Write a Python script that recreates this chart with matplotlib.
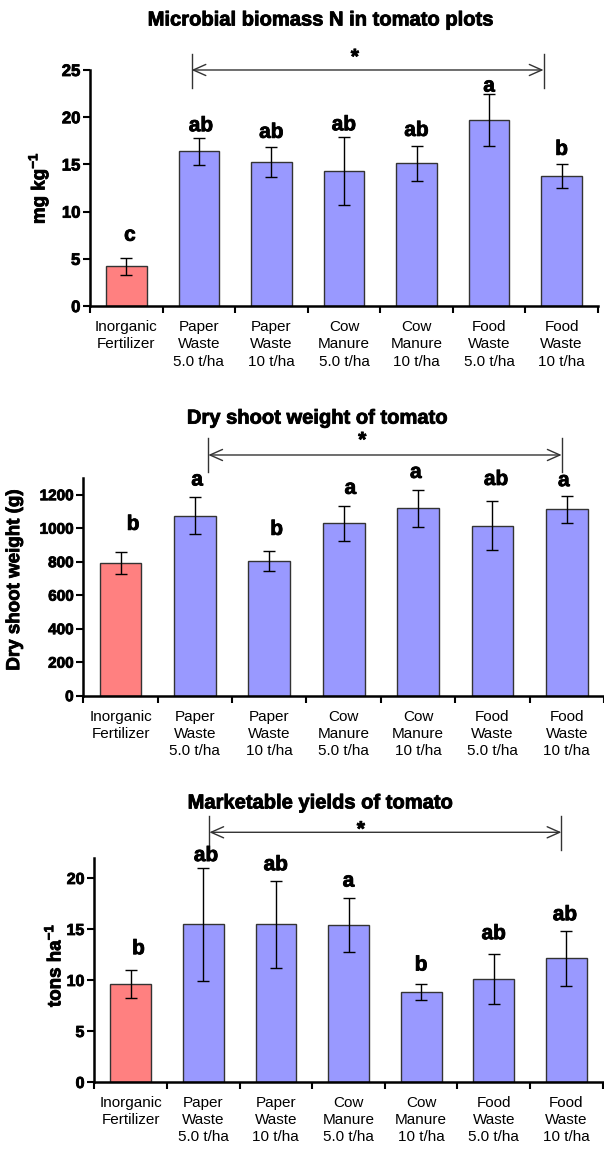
import numpy as np
import matplotlib
matplotlib.use("Agg")
import matplotlib.pyplot as plt
import matplotlib.patheffects as pe

plt.rcParams['font.family'] = ['Liberation Sans', 'DejaVu Sans']
plt.rcParams['mathtext.fontset'] = 'custom'
plt.rcParams['mathtext.rm'] = 'Liberation Sans'
plt.rcParams['mathtext.bf'] = 'Liberation Sans:bold'

categories = ["Inorganic\nFertilizer", "Paper\nWaste\n5.0 t/ha", "Paper\nWaste\n10 t/ha",
              "Cow\nManure\n5.0 t/ha", "Cow\nManure\n10 t/ha", "Food\nWaste\n5.0 t/ha",
              "Food\nWaste\n10 t/ha"]

# Microbial biomass N (mg kg-1)
mbn_mean = [4.2, 16.4, 15.25, 14.3, 15.1, 19.7, 13.8]
mbn_err = [0.9, 1.45, 1.6, 3.6, 1.85, 2.75, 1.27]
mbn_letters = ["c", "ab", "ab", "ab", "ab", "a", "b"]

# Dry shoot weight (g)
dsw_mean = [792, 1075, 806, 1029, 1118, 1015, 1112]
dsw_err = [67, 112, 59, 105, 108, 145, 82]
dsw_letters = ["b", "a", "b", "a", "a", "ab", "a"]

# Marketable yields (tons ha-1)
my_mean = [9.6, 15.45, 15.45, 15.35, 8.8, 10.1, 12.15]
my_err = [1.35, 5.5, 4.3, 2.65, 0.8, 2.45, 2.7]
my_letters = ["b", "ab", "ab", "a", "b", "ab", "ab"]

RED = "#FF8080"
BLUE = "#9999FF"
EDGE = "#333333"
HEAVY = [pe.withStroke(linewidth=0.6, foreground="black")]

panels = [
    dict(mean=mbn_mean, err=mbn_err, letters=mbn_letters,
         rect=[0.149, 0.735, 0.841, 0.2044], ylim=25, yticks=np.arange(0, 26, 5), ytsize=12,
         title="Microbial biomass N in tomato plots", title_xy=(0.53, 0.9827),
         ylabel="mg kg$^{\\mathbf{-1}}$", ylab_x=-0.102, ylab_y=0.5,
         letter_y=[7.5, 19.1, 18.4, 19.2, 18.6, 23.3, 16.6], letter_dx=[0.05, 0.03, 0, 0, 0, 0, 0],
         arrow=(0.9, 5.75, 25.0, 23.1, 26.7), star=(3.15, 26.3)),
    dict(mean=dsw_mean, err=dsw_err, letters=dsw_letters,
         rect=[0.138, 0.3977, 0.862, 0.1885], ylim=1300, yticks=np.arange(0, 1201, 200), ytsize=11,
         title="Dry shoot weight of tomato", title_xy=(0.525, 0.638),
         ylabel="Dry shoot weight (g)", ylab_x=-0.132, ylab_y=0.53,
         letter_y=[1023, 1288, 993, 1238, 1333, 1291, 1284], letter_dx=[0.17, 0.03, 0.1, 0.09, -0.03, 0.05, -0.04],
         arrow=(1.18, 5.93, 1437, 1333, 1536), star=(3.25, 1522)),
    dict(mean=my_mean, err=my_err, letters=my_letters,
         rect=[0.156, 0.0632, 0.842, 0.1943], ylim=22, yticks=np.arange(0, 21, 5), ytsize=11.5,
         title="Marketable yields of tomato", title_xy=(0.53, 0.3048),
         ylabel="tons ha$^{\\mathbf{-1}}$", ylab_x=-0.079, ylab_y=0.52,
         letter_y=[13.07, 22.2, 21.3, 19.7, 11.47, 14.54, 16.4], letter_dx=[0.11, 0.04, 0, 0, 0, 0, -0.02],
         arrow=(1.085, 5.93, 24.48, 22.78, 26.1), star=(3.17, 24.7)),
]

fig = plt.figure(figsize=(6.04, 11.55), dpi=100)
x = np.arange(len(categories))
colors = [RED] + [BLUE] * (len(categories) - 1)

for p in panels:
    ax = fig.add_axes(p["rect"])
    ax.bar(x, p["mean"], width=0.56, color=colors, edgecolor=EDGE, linewidth=1.0, zorder=2)
    ax.errorbar(x, p["mean"], yerr=p["err"], fmt="none", ecolor="black",
                elinewidth=1.0, capsize=4, capthick=1.0, zorder=3)

    ax.set_xlim(-0.5, len(categories) - 0.5)
    ax.set_ylim(0, p["ylim"])
    ax.set_yticks(p["yticks"])
    ax.set_xticks(x)
    ax.set_xticklabels(categories, fontsize=11, linespacing=1.3)
    ax.set_xticks(np.arange(-0.5, len(categories), 1), minor=True)
    ax.tick_params(axis="x", which="major", length=0, pad=10)
    ax.tick_params(axis="x", which="minor", length=5, width=1.5, direction="out")
    ax.tick_params(axis="y", length=5, width=1.5, direction="out", labelsize=p["ytsize"], pad=2)
    for lab in ax.get_yticklabels():
        lab.set_fontweight("bold")
        lab.set_path_effects(HEAVY)

    for s in ["top", "right"]:
        ax.spines[s].set_visible(False)
    for s in ["left", "bottom"]:
        ax.spines[s].set_linewidth(1.8)

    for i, (lt, ly, dx) in enumerate(zip(p["letters"], p["letter_y"], p["letter_dx"])):
        ax.text(i + dx, ly, lt, ha="center", va="center", fontsize=15,
                fontweight="bold", clip_on=False, path_effects=HEAVY)

    x1, x2, ya, yl0, yl1 = p["arrow"]
    ax.annotate("", xy=(x2, ya), xytext=(x1, ya),
                arrowprops=dict(arrowstyle="<->,head_length=0.9,head_width=0.4",
                                lw=1.0, color=EDGE, shrinkA=0, shrinkB=0),
                annotation_clip=False)
    ax.plot([x1, x1], [yl0, yl1], color=EDGE, lw=1.0, clip_on=False)
    ax.plot([x2, x2], [yl0, yl1], color=EDGE, lw=1.0, clip_on=False)
    ax.text(p["star"][0], p["star"][1], "*", ha="center", va="center",
            fontsize=15, fontweight="bold", clip_on=False, path_effects=HEAVY)

    ax.text(p["ylab_x"], p["ylab_y"], p["ylabel"], transform=ax.transAxes,
            rotation=90, ha="center", va="center", fontsize=13.5, fontweight="bold",
            path_effects=HEAVY)

    fig.text(p["title_xy"][0], p["title_xy"][1], p["title"], ha="center", va="center",
             fontsize=14.5, fontweight="bold", path_effects=HEAVY)

fig.savefig("out.png", dpi=100)
